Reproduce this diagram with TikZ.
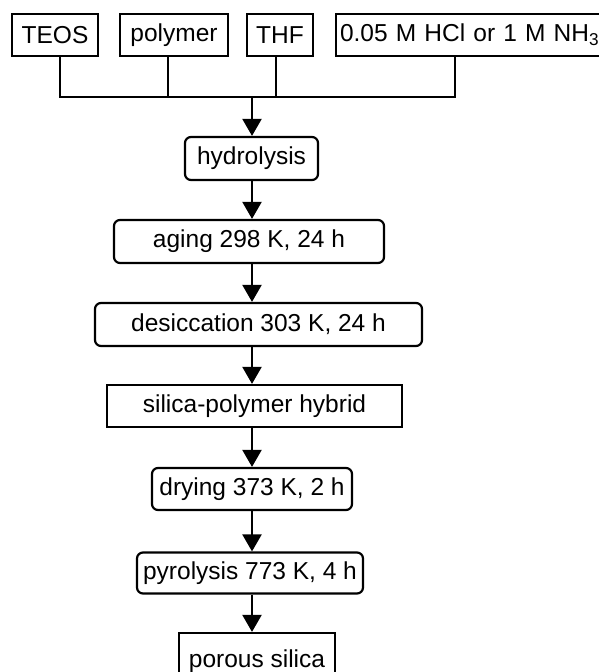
\documentclass[tikz,border=0pt]{standalone}
\usepackage{fontspec}
\setmainfont{Liberation Sans}
\usetikzlibrary{arrows.meta}
\begin{document}
\begin{tikzpicture}[x=1pt,y=-1pt,
  every node/.style={font=\fontsize{24.5}{29}\selectfont, inner sep=0pt, line width=2.2pt, draw=black},
  sqbox/.style={draw, rectangle},
  rbox/.style={draw, rectangle, rounded corners=6pt},
  conn/.style={line width=2.2pt},
  flow/.style={line width=2.2pt, -{Triangle[width=19pt,length=17pt]}}]
\useasboundingbox (0,0) rectangle (599,672);
\clip (0,0) rectangle (599,672);
% inputs
\node[sqbox, minimum width=86pt, minimum height=42pt] (teos) at (55,35) {TEOS};
\node[sqbox, minimum width=108pt, minimum height=42pt] (poly) at (174,35) {polymer};
\node[sqbox, minimum width=66pt, minimum height=42pt] (thf) at (280,35) {THF};
\node[sqbox, minimum height=42pt, inner xsep=4pt, text width=268pt, align=left] (hcl) at (474,35) {0.05 M HCl or 1 M NH\textsubscript{3}};
\coordinate (j) at (252,97);
% steps
\node[rbox, minimum width=133pt, minimum height=43pt] (hyd) at (251.5,158.5) {hydrolysis};
\node[rbox, minimum width=270pt, minimum height=43pt] (aging) at (249,241.5) {aging 298 K, 24 h};
\node[rbox, minimum width=327pt, minimum height=43pt] (des) at (258.5,324.5) {desiccation 303 K, 24 h};
\node[sqbox, minimum width=295pt, minimum height=42pt] (hyb) at (254.5,406) {silica-polymer hybrid};
\node[rbox, minimum width=200pt, minimum height=42pt] (dry) at (252,489) {drying 373 K, 2 h};
\node[rbox, minimum width=226pt, minimum height=41pt] (pyr) at (250,573) {pyrolysis 773 K, 4 h};
\node[sqbox, minimum width=156pt, minimum height=56pt] (por) at (257,661) {porous silica};
% connectors
\draw[conn] ([xshift=5pt]teos.south) |- (j);
\draw[conn] ([xshift=-6pt]poly.south) |- (j);
\draw[conn] ([xshift=-4pt]thf.south) |- (j);
\draw[conn] ([xshift=-19pt]hcl.south) |- (j);
\draw[flow] (j) -- (hyd.north -| j);
\draw[flow] (hyd.south -| j) -- (aging.north -| j);
\draw[flow] (aging.south -| j) -- (des.north -| j);
\draw[flow] (des.south -| j) -- (hyb.north -| j);
\draw[flow] (hyb.south -| j) -- (dry.north -| j);
\draw[flow] (dry.south -| j) -- (pyr.north -| j);
\draw[flow] (pyr.south -| j) -- (por.north -| j);
\end{tikzpicture}
\end{document}
